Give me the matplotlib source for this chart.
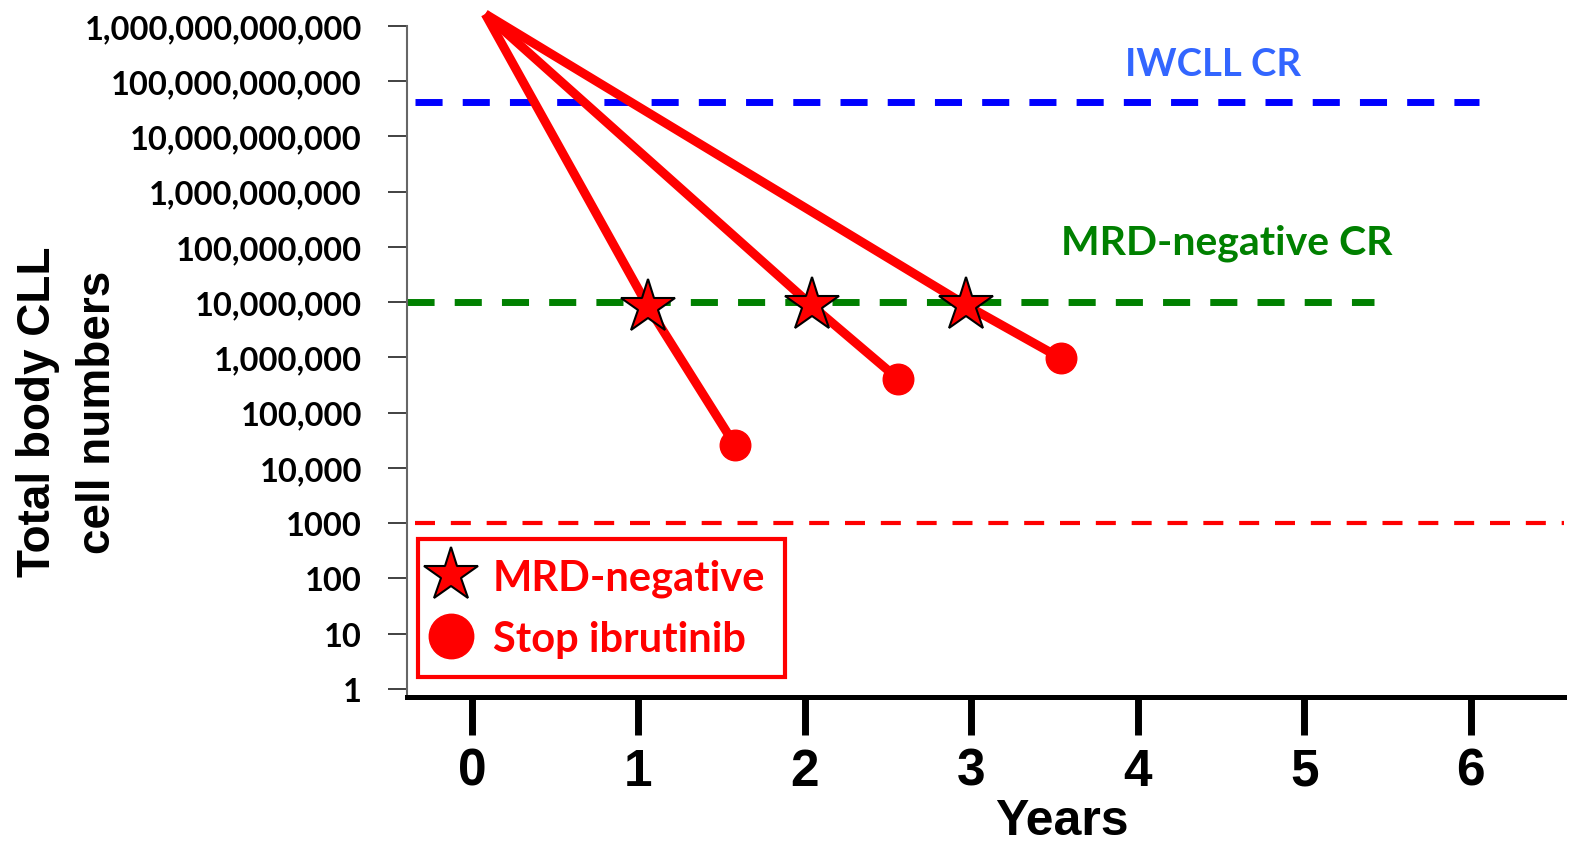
import matplotlib
matplotlib.use("Agg")
import matplotlib.pyplot as plt
from matplotlib.lines import Line2D
from matplotlib.ticker import FixedLocator, NullLocator

# data
start = (0.08, 1.65e12)
star_x = [1.06, 2.04, 2.97]
star_y = [8.1e6, 8.8e6, 8.8e6]
stop_x = [1.58, 2.56, 3.54]
stop_y = [2.6e4, 4.1e5, 9.6e5]

iwcll_level = 4.2e10
mrd_level = 1e7
floor_level = 1000

y_ticks = [1, 10, 100, 1000, 1e4, 1e5, 1e6, 1e7, 1e8, 1e9, 1e10, 1e11, 1e12]
y_labels = ['1', '10', '100', '1000', '10,000', '100,000', '1,000,000',
            '10,000,000', '100,000,000', '1,000,000,000', '10,000,000,000',
            '100,000,000,000', '1,000,000,000,000']
x_ticks = [0, 1, 2, 3, 4, 5, 6]

W, H = 1569, 845
fig = plt.figure(figsize=(W / 100, H / 100), dpi=100)
ax = fig.add_axes([407 / W, 1 - 698 / H, (1564 - 407) / W, (698 - 27) / H])

ax.set_yscale('log')
ax.set_ylim(0.716, 1e12)
ax.set_xlim(-0.39, 6.56)

red = '#ff0000'
calibri = 'Lato'

# reference levels
ax.plot([-0.34, 6.05], [iwcll_level] * 2, color='#0000ff', lw=5,
        linestyle=(0, (3.9, 2.9)), solid_capstyle='butt')
ax.plot([-0.39, 5.42], [mrd_level] * 2, color='#008000', lw=5,
        linestyle=(0, (3.9, 2.9)), solid_capstyle='butt')
ax.plot([-0.34, 6.56], [floor_level] * 2, color=red, lw=3,
        linestyle=(0, (4.8, 3.8)), clip_on=False)

# decline lines
for sx, sy, ex, ey in zip(star_x, star_y, stop_x, stop_y):
    ax.plot([start[0], sx, ex], [start[1], sy, ey], color=red, lw=6.5,
            solid_capstyle='butt', solid_joinstyle='round', clip_on=False, zorder=3)
ax.plot(stop_x, stop_y, 'o', color=red, ms=22, mec=red, zorder=4)
ax.plot(star_x, star_y, '*', color=red, ms=41, mec='black', mew=1.5, zorder=5)

ax.text((1213 - 407) / 1157, (698 - 65) / 671, 'IWCLL CR',
        transform=ax.transAxes, color='#3366ff', fontsize=27.5, fontweight='bold',
        family=calibri, ha='center', va='center')
ax.text((1227 - 407) / 1157, (698 - 243) / 671, 'MRD-negative CR',
        transform=ax.transAxes, color='#008000', fontsize=29.5, fontweight='bold',
        family=calibri, ha='center', va='center')

# axes styling
for s in ['top', 'right']:
    ax.spines[s].set_visible(False)
ax.spines['left'].set_color('#666666')
ax.spines['left'].set_linewidth(1.5)
ax.spines['bottom'].set_linewidth(3.6)

ax.yaxis.set_major_locator(FixedLocator(y_ticks))
ax.yaxis.set_minor_locator(NullLocator())
ax.set_yticklabels(y_labels, fontsize=23.5, fontweight='bold', family=calibri)
ax.tick_params(axis='y', length=14, width=1.3, color='#333333', pad=18.5)

ax.set_xticks(x_ticks)
ax.set_xticklabels([str(v) for v in x_ticks], fontsize=37, fontweight='bold',
                   family='Liberation Sans')
ax.tick_params(axis='x', length=27, width=5, pad=9)

ax.set_xlabel('Years', fontsize=36, fontweight='bold', family='Liberation Sans',
              va='center')
ax.xaxis.set_label_coords((1062 - 407) / 1157, (698 - 822) / 671)

fig.text(68 / W, 1 - 412 / H, 'Total body CLL\ncell numbers', rotation=90,
         fontsize=33, fontweight='bold', family='Liberation Sans',
         ha='center', va='center', multialignment='center', linespacing=1.45)

handles = [
    Line2D([], [], ls='none', marker='*', ms=41, color=red, mec='black', mew=1.5),
    Line2D([], [], ls='none', marker='o', ms=32, color=red, mec=red),
]
leg = ax.legend(handles, ['MRD-negative', 'Stop ibrutinib'],
                loc='upper left', bbox_to_anchor=((418 - 407) / 1157, (698 - 540) / 671),
                borderaxespad=0, fancybox=False, framealpha=1,
                prop={'family': calibri, 'weight': 'bold', 'size': 30},
                labelcolor=red, borderpad=0.46, handlelength=0.67,
                handletextpad=0.67, labelspacing=0.55)
leg.get_frame().set_edgecolor(red)
leg.get_frame().set_linewidth(3)

fig.savefig('out.png', dpi=100)
